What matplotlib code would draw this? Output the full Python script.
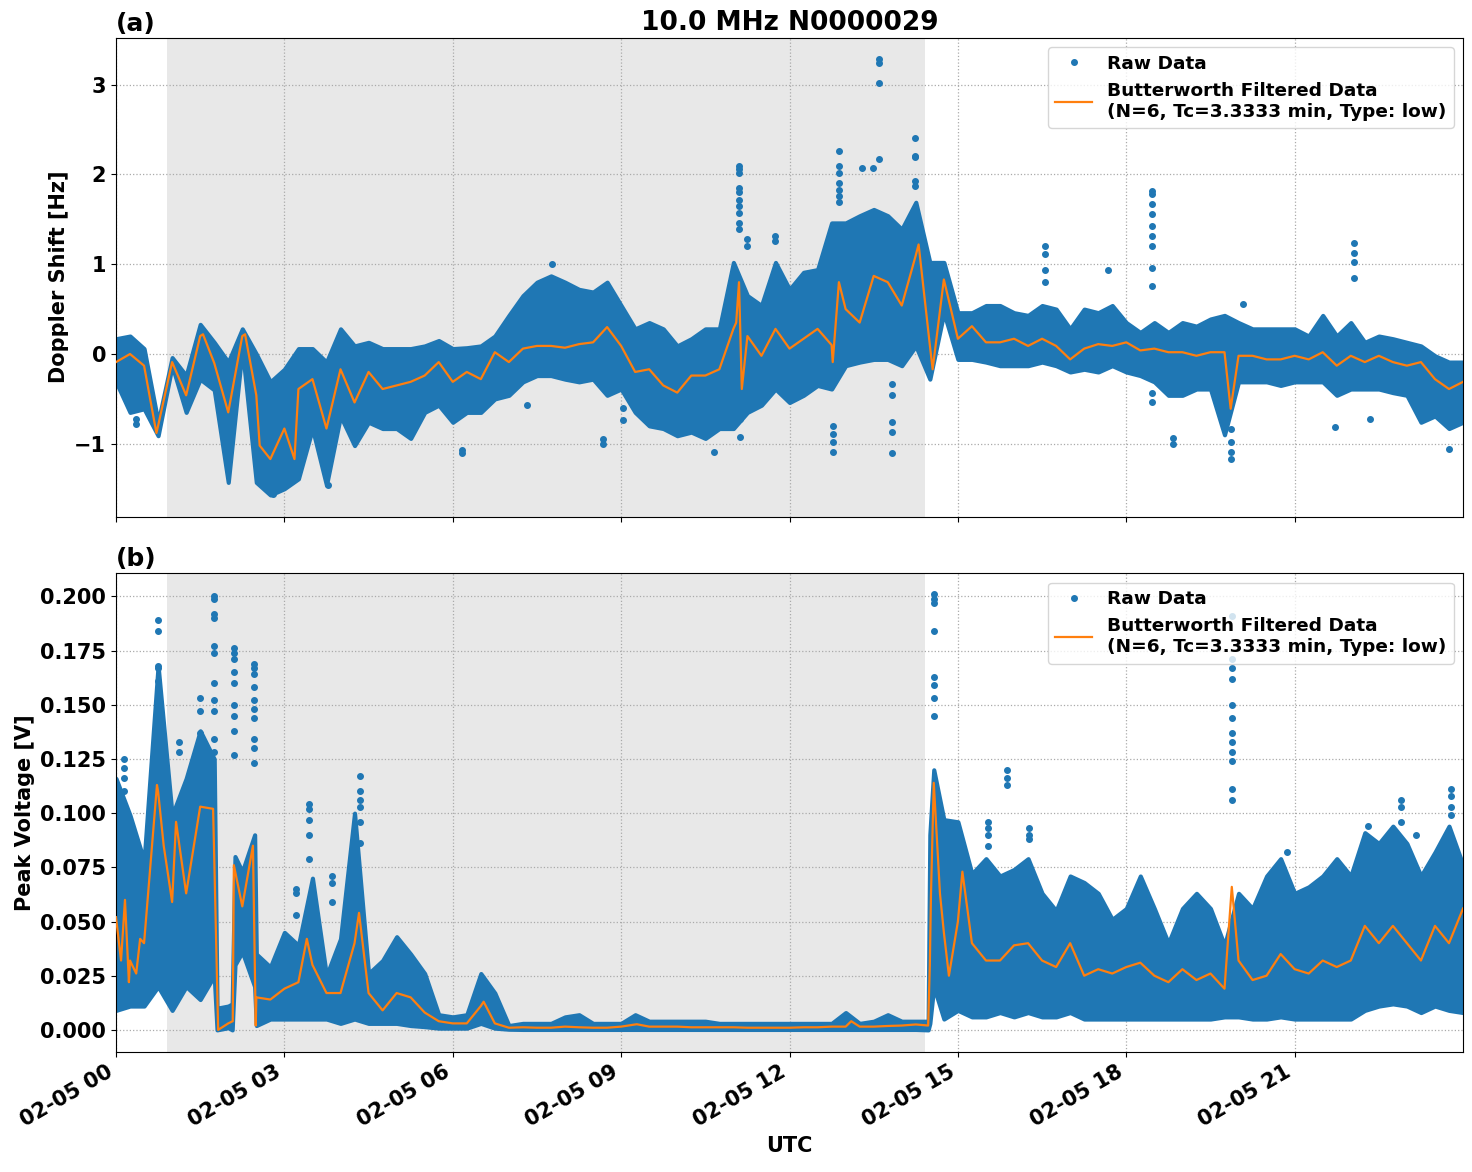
import datetime as dt
import matplotlib
matplotlib.use("Agg")
import matplotlib.pyplot as plt
import matplotlib.dates as mdates
from matplotlib.lines import Line2D
import numpy as np

# 15-minute grid, hours after 2024-02-05 00:00 UTC
hours = np.arange(0, 24.001, 0.25)

# Doppler shift [Hz]: filtered curve, raw upper / lower envelope
dop_filt = [-0.09, 0.0, -0.13, -0.8, -0.09, -0.46, 0.2, -0.1, -0.65, 0.2, -0.46, -1.17,
            -0.83, -0.39, -0.28, -0.83, -0.17, -0.54, -0.2, -0.39, -0.35, -0.31, -0.24, -0.09,
            -0.31, -0.2, -0.28, 0.02, -0.09, 0.06, 0.09, 0.09, 0.07, 0.11, 0.13, 0.3,
            0.09, -0.2, -0.17, -0.35, -0.43, -0.24, -0.24, -0.17, 0.28, 0.2, -0.02, 0.28,
            0.06, 0.17, 0.28, 0.1, 0.5, 0.35, 0.87, 0.8, 0.54, 1.1, 0.1, 0.83,
            0.17, 0.31, 0.13, 0.13, 0.17, 0.09, 0.17, 0.09, -0.06, 0.06, 0.11, 0.09,
            0.13, 0.04, 0.06, 0.02, 0.02, -0.02, 0.02, 0.02, -0.02, -0.02, -0.06, -0.06,
            -0.02, -0.06, 0.02, -0.13, -0.02, -0.09, -0.02, -0.09, -0.13, -0.09, -0.28, -0.39,
            -0.31]
dop_hi = [0.17, 0.2, 0.06, -0.76, -0.04, -0.24, 0.33, 0.13, -0.09, 0.28, 0.0, -0.31,
          -0.17, 0.06, 0.06, -0.09, 0.28, 0.09, 0.13, 0.06, 0.06, 0.06, 0.09, 0.15,
          0.06, 0.07, 0.09, 0.2, 0.43, 0.65, 0.8, 0.87, 0.8, 0.72, 0.69, 0.8,
          0.54, 0.28, 0.35, 0.28, 0.09, 0.17, 0.28, 0.28, 1.02, 0.65, 0.54, 1.02,
          0.72, 0.91, 0.94, 1.46, 1.46, 1.54, 1.61, 1.54, 1.39, 1.69, 1.02, 1.02,
          0.46, 0.46, 0.54, 0.54, 0.46, 0.43, 0.54, 0.5, 0.28, 0.5, 0.46, 0.54,
          0.35, 0.24, 0.35, 0.24, 0.35, 0.31, 0.39, 0.43, 0.35, 0.28, 0.28, 0.28,
          0.28, 0.2, 0.43, 0.2, 0.35, 0.13, 0.2, 0.17, 0.13, 0.09, -0.02, -0.09,
          -0.09]
dop_lo = [-0.31, -0.65, -0.61, -0.91, -0.13, -0.65, -0.28, -0.4, -1.43, 0.06, -1.43, -1.57,
          -1.5, -1.39, -0.83, -1.46, -0.69, -1.02, -0.76, -0.83, -0.83, -0.94, -0.65, -0.57,
          -0.76, -0.65, -0.65, -0.5, -0.46, -0.31, -0.24, -0.24, -0.28, -0.31, -0.28, -0.46,
          -0.39, -0.65, -0.8, -0.83, -0.91, -0.87, -0.94, -0.83, -0.83, -0.65, -0.57, -0.39,
          -0.54, -0.46, -0.35, -0.39, -0.13, -0.09, -0.06, -0.06, -0.13, 0.09, -0.28, 0.46,
          -0.06, -0.06, -0.09, -0.13, -0.13, -0.13, -0.09, -0.13, -0.2, -0.17, -0.2, -0.13,
          -0.2, -0.24, -0.31, -0.46, -0.46, -0.39, -0.39, -0.9, -0.31, -0.31, -0.31, -0.35,
          -0.31, -0.31, -0.31, -0.46, -0.39, -0.39, -0.39, -0.43, -0.46, -0.76, -0.69, -0.83,
          -0.76]
# sharp features of the Doppler filtered curve between grid points
dop_feat_t = [0.72, 1.55, 2.3, 2.56, 3.18, 11.05, 11.1, 11.15, 12.77, 12.88, 14.3, 14.55, 19.86]
dop_feat_v = [-0.88, 0.22, 0.22, -1.02, -1.17, 0.35, 0.8, -0.39, -0.09, 0.8, 1.22, -0.17, -0.61]
# isolated raw Doppler outliers (hour, Hz)
dop_out_t = [0.35, 0.35, 6.16, 6.16, 8.68, 8.68,
             11.1, 11.1, 11.1, 11.1, 11.1, 11.1, 11.1, 11.1, 11.1, 11.1,
             11.25, 11.25, 11.75, 11.75,
             12.88, 12.88, 12.88, 12.88, 12.88, 12.88, 12.88,
             12.78, 12.78, 12.78, 12.78,
             13.6, 13.6, 13.6, 13.6, 13.3, 13.49,
             14.24, 14.24, 14.24, 14.24, 14.24,
             13.83, 13.83, 13.83, 13.83, 13.83,
             11.12, 11.12, 9.03, 9.03, 10.65, 7.32, 7.77, 2.8, 3.78,
             16.56, 16.56, 16.56, 16.56, 17.68,
             18.46, 18.46, 18.46, 18.46, 18.46, 18.46, 18.46, 18.46, 18.46, 18.46, 18.46,
             18.84, 18.84, 19.87, 19.87, 19.87, 19.87,
             22.05, 22.05, 22.05, 22.05, 21.72, 23.75, 22.34, 20.08]
dop_out_v = [-0.78, -0.72, -1.07, -1.1, -0.95, -1.0,
             2.09, 2.06, 2.02, 1.85, 1.8, 1.72, 1.65, 1.57, 1.46, 1.39,
             1.28, 1.2, 1.31, 1.26,
             2.26, 2.09, 2.02, 1.91, 1.83, 1.76, 1.69,
             -1.09, -0.98, -0.89, -0.8,
             3.29, 3.24, 3.02, 2.17, 2.07, 2.07,
             2.41, 2.2, 2.19, 1.93, 1.87,
             -0.33, -0.46, -0.76, -0.87, -1.1,
             -0.72, -0.93, -0.6, -0.74, -1.09, -0.57, 1.0, -1.56, -1.46,
             1.2, 1.11, 0.94, 0.8, 0.94,
             1.81, 1.78, 1.67, 1.56, 1.43, 1.31, 1.2, 0.96, 0.76, -0.43, -0.54,
             -0.94, -1.0, -1.09, -1.17, -0.83, -0.98,
             1.24, 1.13, 1.02, 0.85, -0.81, -1.06, -0.72, 0.56]

# Peak voltage [V]: filtered curve, raw upper / lower envelope
pv_filt = [0.052, 0.032, 0.040, 0.110, 0.059, 0.063, 0.103, 0.080, 0.003, 0.057, 0.015, 0.014,
           0.019, 0.022, 0.030, 0.017, 0.017, 0.040, 0.017, 0.009, 0.017, 0.015, 0.008, 0.004,
           0.003, 0.003, 0.011, 0.003, 0.001, 0.0012, 0.001, 0.001, 0.0015, 0.0012, 0.001, 0.001,
           0.0015, 0.0025, 0.0015, 0.0015, 0.0015, 0.0012, 0.0012, 0.0012, 0.0012, 0.001, 0.001, 0.001,
           0.001, 0.0012, 0.0012, 0.0015, 0.0015, 0.0015, 0.0015, 0.0018, 0.002, 0.0025, 0.03, 0.045,
           0.050, 0.040, 0.032, 0.032, 0.039, 0.040, 0.032, 0.029, 0.040, 0.025, 0.028, 0.026,
           0.029, 0.031, 0.025, 0.022, 0.028, 0.023, 0.026, 0.019, 0.032, 0.023, 0.025, 0.035,
           0.028, 0.026, 0.032, 0.029, 0.032, 0.048, 0.040, 0.048, 0.040, 0.032, 0.048, 0.040,
           0.056]
pv_hi = [0.116, 0.099, 0.078, 0.168, 0.099, 0.116, 0.138, 0.125, 0.011, 0.073, 0.035, 0.029,
         0.045, 0.039, 0.070, 0.025, 0.042, 0.100, 0.026, 0.032, 0.043, 0.035, 0.026, 0.007,
         0.006, 0.007, 0.026, 0.017, 0.002, 0.003, 0.003, 0.003, 0.006, 0.007, 0.003, 0.003,
         0.003, 0.007, 0.004, 0.004, 0.004, 0.004, 0.004, 0.003, 0.003, 0.003, 0.003, 0.003,
         0.003, 0.003, 0.003, 0.003, 0.008, 0.003, 0.004, 0.007, 0.004, 0.004, 0.090, 0.097,
         0.096, 0.072, 0.079, 0.071, 0.074, 0.079, 0.063, 0.055, 0.071, 0.068, 0.063, 0.051,
         0.056, 0.071, 0.056, 0.040, 0.056, 0.063, 0.056, 0.039, 0.063, 0.056, 0.071, 0.079,
         0.063, 0.066, 0.071, 0.079, 0.071, 0.091, 0.086, 0.094, 0.086, 0.071, 0.082, 0.094,
         0.076]
pv_lo = [0.009, 0.011, 0.011, 0.020, 0.009, 0.020, 0.014, 0.025, 0.001, 0.036, 0.002, 0.005,
         0.005, 0.005, 0.005, 0.005, 0.003, 0.005, 0.003, 0.003, 0.003, 0.002, 0.0015, 0.0008,
         0.0008, 0.0008, 0.003, 0.0008, 0.0003, 0.0002, 0.0002, 0.0002, 0.0002, 0.0002, 0.0002, 0.0002,
         0.0002, 0.0002, 0.0002, 0.0002, 0.0002, 0.0002, 0.0002, 0.0002, 0.0002, 0.0002, 0.0002, 0.0002,
         0.0002, 0.0002, 0.0002, 0.0002, 0.0002, 0.0002, 0.0002, 0.0002, 0.0002, 0.0002, 0.003, 0.005,
         0.009, 0.006, 0.006, 0.008, 0.006, 0.008, 0.006, 0.006, 0.008, 0.005, 0.005, 0.005,
         0.005, 0.005, 0.005, 0.005, 0.005, 0.005, 0.005, 0.006, 0.006, 0.005, 0.005, 0.006,
         0.005, 0.005, 0.005, 0.005, 0.005, 0.009, 0.011, 0.012, 0.011, 0.008, 0.011, 0.009,
         0.008]
pv_feat_t = [0.09, 0.16, 0.23, 0.36, 0.43, 0.73, 0.85, 1.07, 1.73, 1.82, 2.08, 2.1, 2.44, 2.49,
             3.4, 4.33, 6.55, 9.28, 13.1, 14.47, 14.52, 14.57, 14.62, 14.68, 14.84, 15.08, 19.88]
pv_feat_v = [0.032, 0.06, 0.022, 0.026, 0.042, 0.113, 0.085, 0.096, 0.102, 0.0, 0.004, 0.076,
             0.085, 0.002, 0.042, 0.054, 0.013, 0.0026, 0.004, 0.002, 0.062, 0.114, 0.091, 0.063,
             0.025, 0.073, 0.066]
pv_env_t = [1.8, 2.07, 2.12, 2.47, 14.47, 14.57]
pv_env_hi = [0.010, 0.012, 0.080, 0.090, 0.004, 0.120]
pv_env_lo = [0.000, 0.000, 0.030, 0.020, 0.000, 0.020]
pv_out_t = [0.75] * 7 + [0.15] * 4 + [1.13] * 2 + [1.5] * 3 + [1.74] * 11 + [2.1] * 9 + \
           [2.46] * 10 + [3.44] * 5 + [4.35] * 6 + [3.85] * 3 + [3.2] * 3 + [14.58] * 8 + \
           [15.54] * 4 + [15.88] * 3 + [16.27] * 3 + [19.89] * 12 + [22.9] * 3 + [23.78] * 4 + \
           [23.17, 22.3, 20.86]
pv_out_v = [0.189, 0.184, 0.168, 0.167, 0.161, 0.157, 0.153,
            0.125, 0.121, 0.116, 0.11,
            0.133, 0.128,
            0.153, 0.147, 0.137,
            0.2, 0.199, 0.192, 0.19, 0.177, 0.174, 0.16, 0.152, 0.147, 0.134, 0.128,
            0.176, 0.174, 0.171, 0.165, 0.16, 0.15, 0.145, 0.138, 0.127,
            0.169, 0.167, 0.164, 0.158, 0.152, 0.148, 0.144, 0.134, 0.13, 0.123,
            0.104, 0.102, 0.097, 0.09, 0.079,
            0.117, 0.11, 0.106, 0.103, 0.096, 0.086,
            0.071, 0.068, 0.059,
            0.065, 0.063, 0.053,
            0.201, 0.199, 0.197, 0.184, 0.163, 0.159, 0.153, 0.145,
            0.096, 0.093, 0.09, 0.085,
            0.12, 0.116, 0.113,
            0.093, 0.09, 0.088,
            0.191, 0.171, 0.167, 0.162, 0.15, 0.144, 0.137, 0.133, 0.128, 0.124, 0.111, 0.106,
            0.106, 0.103, 0.096,
            0.111, 0.108, 0.103, 0.099,
            0.09, 0.094, 0.082]

night_start, night_end = 0.91, 14.41

day0 = dt.datetime(2024, 2, 5)


def to_dates(h):
    return [day0 + dt.timedelta(hours=float(x)) for x in h]


def merge(t1, v1, t2, v2):
    t = np.concatenate([t1, t2])
    v = np.concatenate([v1, v2])
    order = np.argsort(t, kind="stable")
    return t[order], v[order]


blue = "#1f77b4"
orange = "#ff7f0e"

fig, (ax1, ax2) = plt.subplots(2, 1, figsize=(14.72, 11.72), dpi=100, sharex=True)
fig.subplots_adjust(left=0.0788, right=0.9939, top=0.9676, bottom=0.1024, hspace=0.119)

panels = [
    (ax1, dop_filt, dop_hi, dop_lo, dop_feat_t, dop_feat_v, [], [], [], dop_out_t, dop_out_v),
    (ax2, pv_filt, pv_hi, pv_lo, pv_feat_t, pv_feat_v, pv_env_t, pv_env_hi, pv_env_lo,
     pv_out_t, pv_out_v),
]

for ax, filt, hi, lo, ft, fv, et, ehi, elo, ot, ov in panels:
    ax.axvspan(to_dates([night_start])[0], to_dates([night_end])[0],
               color="#e8e8e8", zorder=0, lw=0)
    th, hv = merge(hours, np.array(hi), np.array(et, dtype=float), np.array(ehi, dtype=float))
    _, lv = merge(hours, np.array(lo), np.array(et, dtype=float), np.array(elo, dtype=float))
    ax.fill_between(to_dates(th), lv, hv, facecolor=blue, edgecolor=blue, lw=3, zorder=2)
    ax.plot(to_dates(ot), ov, "o", color=blue, ms=4, zorder=2)
    tf, vf = merge(hours, np.array(filt), np.array(ft), np.array(fv))
    ax.plot(to_dates(tf), vf, color=orange, lw=1.6, zorder=3)
    ax.grid(True, linestyle=":", color="#aaaaaa", lw=0.9)
    ax.set_axisbelow(True)
    handles = [Line2D([], [], marker="o", ls="none", color=blue, ms=4),
               Line2D([], [], color=orange, lw=1.6)]
    ax.legend(handles, ["Raw Data",
                        "Butterworth Filtered Data\n(N=6, Tc=3.3333 min, Type: low)"],
              loc="upper right", prop={"weight": "bold", "size": 13.3})
    ax.tick_params(labelsize=15)

ax1.set_ylim(-1.81, 3.52)
ax1.set_yticks([-1, 0, 1, 2, 3])
ax2.set_ylim(-0.0102, 0.2106)
ax2.set_yticks(np.arange(0, 0.2001, 0.025))
ax2.yaxis.set_major_formatter(matplotlib.ticker.FormatStrFormatter("%.3f"))

ax2.set_xlim(day0, day0 + dt.timedelta(hours=23, minutes=59, seconds=59))
ax2.xaxis.set_major_locator(mdates.HourLocator(byhour=range(0, 24, 3)))
ax2.xaxis.set_major_formatter(mdates.DateFormatter("%m-%d %H"))
for ax in (ax1, ax2):
    for lab in ax.get_yticklabels():
        lab.set_fontweight("bold")
for lab in ax2.get_xticklabels():
    lab.set_rotation(30)
    lab.set_ha("right")
    lab.set_fontweight("bold")

ax1.set_ylabel("Doppler Shift [Hz]", fontsize=15, fontweight="bold")
ax2.set_ylabel("Peak Voltage [V]", fontsize=15, fontweight="bold")
ax2.set_xlabel("UTC", fontsize=15, fontweight="bold")
ax1.set_title("10.0 MHz N0000029", fontsize=19, fontweight="bold")
ax1.text(0, 1.005, "(a)", transform=ax1.transAxes, fontsize=18, fontweight="bold", va="bottom")
ax2.text(0, 1.005, "(b)", transform=ax2.transAxes, fontsize=18, fontweight="bold", va="bottom")

fig.savefig("out.png", dpi=100)
